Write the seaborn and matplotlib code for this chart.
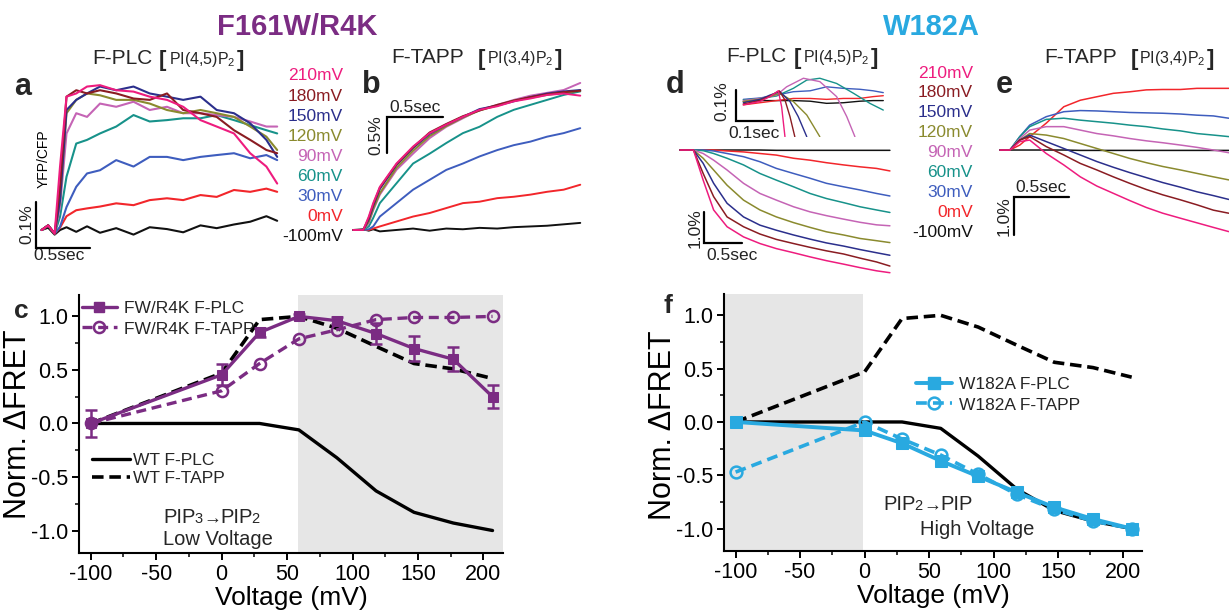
import matplotlib
matplotlib.use("Agg")
import matplotlib.pyplot as plt
import seaborn as sns
from matplotlib.lines import Line2D
from matplotlib.ticker import MultipleLocator, FormatStrFormatter

# ---------------- data ----------------
volt_labels = ["210mV", "180mV", "150mV", "120mV", "90mV", "60mV", "30mV", "0mV", "-100mV"]
trace_colors = ["#EE1C7E", "#8A1C22", "#2B2F8C", "#8A8A2E", "#C564B5", "#17928A", "#3E5DBE", "#F2262B", "#111111"]

# panel a : F161W/R4K F-PLC traces (time s, dFRET %)
a_t = [0, 0.06, 0.12, 0.17, 0.23, 0.32, 0.42, 0.54, 0.69, 0.85, 1.0, 1.16, 1.31, 1.47, 1.62, 1.78, 1.93, 2.08, 2.18]
a_m100 = [0, 0.005, -0.01, 0.0, 0.006, -0.004, 0.008, -0.006, 0.004, -0.01, 0.006, 0.002, -0.005, 0.01, 0.004, 0.012, 0.018, 0.03, 0.02]
a_0 = [0, 0.01, -0.008, 0.005, 0.03, 0.043, 0.047, 0.051, 0.058, 0.054, 0.065, 0.069, 0.065, 0.076, 0.072, 0.087, 0.083, 0.09, 0.083]
a_30 = [0, 0.01, -0.008, 0.007, 0.05, 0.094, 0.123, 0.13, 0.152, 0.138, 0.159, 0.159, 0.152, 0.159, 0.163, 0.167, 0.156, 0.163, 0.152]
a_60 = [0, 0.01, -0.008, 0.029, 0.116, 0.188, 0.196, 0.21, 0.225, 0.25, 0.236, 0.239, 0.243, 0.243, 0.25, 0.239, 0.228, 0.217, 0.21]
a_90 = [0, 0.01, -0.008, 0.051, 0.21, 0.254, 0.246, 0.275, 0.268, 0.279, 0.261, 0.268, 0.254, 0.254, 0.25, 0.246, 0.236, 0.225, 0.225]
a_120 = [0, 0.01, -0.008, 0.065, 0.254, 0.283, 0.297, 0.293, 0.283, 0.283, 0.275, 0.261, 0.254, 0.261, 0.254, 0.246, 0.225, 0.203, 0.174]
a_150 = [0, 0.01, -0.008, 0.065, 0.261, 0.283, 0.297, 0.312, 0.304, 0.312, 0.297, 0.29, 0.283, 0.29, 0.261, 0.254, 0.232, 0.196, 0.159]
a_180 = [0, 0.01, -0.008, 0.094, 0.29, 0.304, 0.297, 0.304, 0.297, 0.286, 0.283, 0.297, 0.261, 0.254, 0.246, 0.217, 0.196, 0.174, 0.167]
a_210 = [0, 0.01, -0.008, 0.138, 0.29, 0.297, 0.312, 0.315, 0.304, 0.301, 0.29, 0.283, 0.268, 0.239, 0.225, 0.21, 0.167, 0.138, 0.101]

# panel b : F161W/R4K F-TAPP traces
b_t = [0, 0.09, 0.14, 0.18, 0.24, 0.39, 0.54, 0.69, 0.84, 0.99, 1.14, 1.30, 1.45, 1.60, 1.75, 1.90, 2.05]
b_210 = [0, 0, 0.19, 0.38, 0.61, 0.94, 1.18, 1.37, 1.49, 1.60, 1.70, 1.75, 1.82, 1.86, 1.91, 1.93, 1.90]
b_180 = [0, 0, 0.17, 0.36, 0.60, 0.93, 1.17, 1.38, 1.50, 1.61, 1.69, 1.77, 1.83, 1.88, 1.92, 1.95, 1.97]
b_150 = [0, 0, 0.15, 0.34, 0.58, 0.92, 1.16, 1.36, 1.49, 1.60, 1.71, 1.76, 1.82, 1.88, 1.93, 1.96, 1.98]
b_120 = [0, 0, 0.12, 0.30, 0.52, 0.88, 1.12, 1.33, 1.47, 1.59, 1.69, 1.76, 1.83, 1.87, 1.91, 1.94, 1.97]
b_90 = [0, 0, 0.10, 0.28, 0.50, 0.85, 1.08, 1.30, 1.46, 1.58, 1.70, 1.77, 1.84, 1.90, 1.94, 1.98, 2.08]
b_60 = [0, 0, 0.05, 0.17, 0.38, 0.66, 0.94, 1.08, 1.23, 1.37, 1.46, 1.60, 1.70, 1.77, 1.84, 1.91, 1.96]
b_30 = [0, 0, 0.01, 0.05, 0.19, 0.38, 0.57, 0.71, 0.85, 0.94, 1.04, 1.13, 1.20, 1.25, 1.32, 1.37, 1.44]
b_0 = [0, 0, 0, 0.02, 0.05, 0.12, 0.19, 0.24, 0.31, 0.38, 0.40, 0.45, 0.47, 0.50, 0.54, 0.57, 0.64]
b_m100 = [0, 0.01, -0.01, 0.01, -0.02, 0.0, 0.02, -0.01, 0.02, 0.01, 0.03, 0.02, 0.04, 0.05, 0.06, 0.08, 0.10]

# panel d : W182A F-PLC traces
d_t = [0, 0.18, 0.31, 0.45, 0.63, 0.85, 1.07, 1.29, 1.52, 1.74, 1.96, 2.19, 2.41, 2.63, 2.81]
d_210 = [0, 0, -0.95, -1.89, -2.42, -2.74, -2.95, -3.11, -3.24, -3.37, -3.49, -3.60, -3.71, -3.81, -3.87]
d_180 = [0, 0, -0.74, -1.47, -2.11, -2.42, -2.65, -2.82, -2.95, -3.07, -3.18, -3.28, -3.41, -3.53, -3.66]
d_150 = [0, 0, -0.42, -1.05, -1.68, -2.11, -2.37, -2.53, -2.68, -2.81, -2.93, -3.03, -3.14, -3.24, -3.32]
d_120 = [0, 0, -0.26, -0.63, -1.11, -1.58, -1.89, -2.11, -2.29, -2.44, -2.58, -2.68, -2.79, -2.86, -2.92]
d_90 = [0, 0, -0.11, -0.32, -0.63, -1.05, -1.37, -1.58, -1.79, -1.95, -2.07, -2.18, -2.28, -2.36, -2.39]
d_60 = [0, 0, -0.02, -0.11, -0.26, -0.47, -0.74, -0.95, -1.16, -1.37, -1.53, -1.66, -1.79, -1.89, -1.97]
d_30 = [0, 0, 0, -0.03, -0.11, -0.21, -0.37, -0.58, -0.74, -0.89, -1.05, -1.16, -1.26, -1.37, -1.45]
d_0 = [0, 0, 0, 0, -0.03, -0.06, -0.11, -0.16, -0.26, -0.32, -0.40, -0.47, -0.53, -0.58, -0.66]
d_m100 = [0, 0, 0, 0, 0, 0, 0, -0.01, -0.01, -0.01, -0.01, -0.01, -0.01, -0.01, -0.01]

# panel d inset (time ms, dFRET in 0.01 %)
di_210_t = [0, 44.6, 71.4, 93.8, 102.7, 111.6]
di_210 = [-1.6, -0.5, 1.1, 3.0, -2.2, -12.0]
di_180_t = [0, 44.6, 71.4, 96.4, 111.6, 125, 138]
di_180 = [-1.3, -0.2, 1.3, 3.0, 0.0, -5.4, -12.0]
di_150_t = [0, 44.6, 71.4, 98.2, 125, 147, 170]
di_150 = [-0.9, 0.2, 1.6, 2.7, -0.5, -5.4, -12.0]
di_120_t = [0, 44.6, 71.4, 98.2, 134, 170, 205]
di_120 = [-0.5, 0.3, 1.1, 2.2, -0.5, -4.9, -12.0]
di_90_t = [0, 44.6, 89.3, 116, 161, 205, 250, 277, 299]
di_90 = [-0.2, 0.5, 1.6, 4.3, 7.1, 6.0, 1.1, -5.4, -12.0]
di_60_t = [0, 44.6, 89.3, 134, 170, 205, 250, 295, 339, 375]
di_60 = [0.0, 0.5, 1.3, 3.8, 6.5, 7.1, 5.4, 2.2, -1.1, -3.3]
di_30_t = [0, 44.6, 89.3, 134, 179, 223, 268, 312, 348, 375]
di_30 = [0.2, 0.65, 1.6, 2.7, 3.0, 4.3, 3.8, 3.5, 3.0, 2.4]
di_0_t = [0, 44.6, 89.3, 134, 179, 223, 268, 312, 348, 375]
di_0 = [-1.6, -0.9, -0.2, 0.5, 0.5, 0.2, 0.5, 0.5, 1.1, 1.4]
di_m100_t = [0, 44.6, 89.3, 134, 179, 223, 268, 312, 348, 375]
di_m100 = [-0.5, -0.2, -0.2, -0.2, -0.4, -1.1, -0.9, -0.4, -0.2, -0.2]

# panel e : W182A F-TAPP traces
e_t = [0, 0.09, 0.18, 0.27, 0.42, 0.58, 0.73, 0.88, 1.03, 1.18, 1.33, 1.48, 1.64, 1.79, 1.94, 2.08]
e_210 = [0, 0, 0.22, 0.26, -0.09, -0.39, -0.70, -0.94, -1.13, -1.32, -1.50, -1.65, -1.78, -1.90, -2.02, -2.13]
e_180 = [0, 0, 0.26, 0.35, 0.09, -0.13, -0.35, -0.52, -0.70, -0.87, -1.03, -1.17, -1.30, -1.43, -1.57, -1.65]
e_150 = [0, 0, 0.26, 0.39, 0.22, 0.04, -0.13, -0.30, -0.45, -0.59, -0.72, -0.85, -0.97, -1.09, -1.19, -1.29]
e_120 = [0, 0, 0.26, 0.43, 0.39, 0.30, 0.17, 0.04, -0.09, -0.22, -0.33, -0.43, -0.52, -0.61, -0.70, -0.78]
e_90 = [0, 0, 0.30, 0.52, 0.61, 0.61, 0.52, 0.43, 0.37, 0.30, 0.24, 0.19, 0.13, 0.07, 0.0, -0.07]
e_60 = [0, 0, 0.35, 0.61, 0.80, 0.83, 0.78, 0.74, 0.70, 0.65, 0.61, 0.55, 0.50, 0.43, 0.39, 0.35]
e_30 = [0, 0, 0.35, 0.65, 0.87, 1.00, 1.03, 1.02, 1.00, 0.98, 0.97, 0.96, 0.94, 0.91, 0.89, 0.83]
e_0 = [0, 0, 0.13, 0.35, 0.70, 1.13, 1.30, 1.39, 1.48, 1.52, 1.57, 1.58, 1.58, 1.61, 1.61, 1.61]
e_m100 = [0, 0, 0, 0, 0, 0, -0.01, -0.01, -0.01, -0.01, -0.01, -0.01, -0.01, -0.01, -0.01, -0.01]

# panels c / f : normalized dFRET vs voltage
volt = [-100, 0, 29, 59, 88, 118, 147, 177, 207]
wt_plc = [0.0, 0.0, 0.0, -0.06, -0.32, -0.63, -0.83, -0.93, -1.0]
wt_tapp = [0.0, 0.47, 0.97, 1.0, 0.89, 0.72, 0.56, 0.51, 0.42]
fw_plc = [0.0, 0.455, 0.85, 1.0, 0.96, 0.84, 0.70, 0.60, 0.25]
fw_plc_err = [0.125, 0.10, 0.04, 0.02, 0.03, 0.10, 0.12, 0.11, 0.11]
fw_tapp = [0.0, 0.305, 0.56, 0.79, 0.875, 0.97, 0.99, 0.99, 1.0]
w182_plc = [0.0, -0.08, -0.20, -0.365, -0.51, -0.66, -0.80, -0.91, -1.0]
w182_tapp = [-0.47, 0.0, -0.16, -0.31, -0.49, -0.68, -0.82, -0.93, -1.0]

PURPLE = "#7B2C83"
CYAN = "#29A9E0"

# ---------------- style ----------------
sns.set_theme(style="ticks")
plt.rcParams['font.family'] = ['Liberation Sans', 'DejaVu Sans']
plt.rcParams['axes.unicode_minus'] = False

W, H = 1229, 615
fig = plt.figure(figsize=(W / 100, H / 100), dpi=100)


def px_axes(x0, y0, x1, y1):
    return fig.add_axes([x0 / W, 1 - y1 / H, (x1 - x0) / W, (y1 - y0) / H])


ov = fig.add_axes([0, 0, 1, 1])
ov.set_xlim(0, W)
ov.set_ylim(H, 0)
ov.axis('off')


def draw_traces(ax, ts, ys, lw):
    # order: -100 first, 210 last (on top)
    for t, y, c in reversed(list(zip(ts, ys, trace_colors))):
        sns.lineplot(x=t, y=y, color=c, lw=lw, ax=ax, legend=False, sort=False)


def scalebar(ax, x0, y0, dx, dy):
    ax.plot([x0 + dx, x0, x0], [y0, y0, y0 + dy], color='black', lw=1.6,
            clip_on=False, solid_joinstyle='miter')


# ---------- panel a ----------
axa = px_axes(30, 70, 280, 262)
draw_traces(axa, [a_t] * 9, [a_210, a_180, a_150, a_120, a_90, a_60, a_30, a_0, a_m100], 1.5)
axa.set_xlim(-0.108, 2.206)
axa.set_ylim(-0.0696, 0.348)
axa.axis('off')
scalebar(axa, -0.053, -0.039, 0.5, 0.1)

# ---------- panel b ----------
axb = px_axes(340, 70, 590, 262)
draw_traces(axb, [b_t] * 9, [b_210, b_180, b_150, b_120, b_90, b_60, b_30, b_0, b_m100], 1.4)
axb.set_xlim(-0.12, 2.138)
axb.set_ylim(-0.453, 2.263)
axb.axis('off')
scalebar(axb, 0.307, 1.594, 0.5, -0.5)

# ---------- panel d ----------
axd = px_axes(670, 140, 900, 280)
draw_traces(axd, [d_t] * 9, [d_210, d_180, d_150, d_120, d_90, d_60, d_30, d_0, d_m100], 1.1)
axd.set_xlim(-0.134, 2.945)
axd.set_ylim(-4.10, 0.316)
axd.axis('off')
scalebar(axd, 0.326, -2.946, 0.5, 1.0)

axdi = px_axes(715, 55, 890, 137)
draw_traces(axdi, [di_210_t, di_180_t, di_150_t, di_120_t, di_90_t, di_60_t, di_30_t, di_0_t, di_m100_t],
            [di_210, di_180, di_150, di_120, di_90, di_60, di_30, di_0, di_m100], 1.0)
axdi.set_xlim(-75.8, 393)
axdi.set_ylim(-12.1, 14.7)
axdi.axis('off')
scalebar(axdi, -19.6, -6.74, 100, 10)

# ---------- panel e ----------
axe = px_axes(990, 60, 1229, 250)
draw_traces(axe, [e_t] * 9, [e_210, e_180, e_150, e_120, e_90, e_60, e_30, e_0, e_m100], 1.1)
axe.set_xlim(-0.091, 2.082)
axe.set_ylim(-2.61, 2.35)
axe.axis('off')
scalebar(axe, 0.13, -1.219, 0.5, -1.0)


# ---------- summary axes helper ----------
def style_summary(ax, label_x, label_y):
    ax.set_xlim(-109, 215)
    ax.set_ylim(-1.21, 1.2)
    ax.xaxis.set_major_locator(MultipleLocator(50))
    ax.xaxis.set_minor_locator(MultipleLocator(25))
    ax.yaxis.set_major_locator(MultipleLocator(0.5))
    ax.yaxis.set_minor_locator(MultipleLocator(0.25))
    ax.yaxis.set_major_formatter(FormatStrFormatter('%.1f'))
    ax.tick_params(which='major', direction='out', length=5, width=1.4, labelsize=15.5,
                   colors='black', pad=3)
    ax.tick_params(which='minor', direction='out', length=3, width=1.1, colors='black')
    for s in ['top', 'right']:
        ax.spines[s].set_visible(False)
    for s in ['left', 'bottom']:
        ax.spines[s].set_linewidth(1.5)
        ax.spines[s].set_color('black')
    ax.set_xlabel("Voltage (mV)", fontsize=19, color='black')
    ax.set_ylabel("Norm. \u0394FRET", fontsize=22, color='black')
    ax.xaxis.set_label_coords(0.5, -0.128)
    ax.yaxis.set_label_coords(label_x, label_y)
    ax.set_facecolor('none')


DASH = (0, (3.2, 1.6))

# ---------- panel c ----------
axc = px_axes(79, 295, 503, 553)
axc.axvspan(58, 215, color='#E6E6E6', lw=0, zorder=0)
sns.lineplot(x=volt, y=wt_plc, color='black', lw=2.4, ax=axc, legend=False)
sns.lineplot(x=volt, y=wt_tapp, color='black', lw=2.6, linestyle=DASH, ax=axc, legend=False)
axc.errorbar(volt, fw_plc, yerr=fw_plc_err, fmt='none', ecolor=PURPLE, elinewidth=1.8,
             capsize=4, capthick=1.8, zorder=3)
sns.lineplot(x=volt, y=fw_tapp, color=PURPLE, lw=2.4, linestyle=(0, (3, 1.7)), marker='o',
             markersize=8, markerfacecolor='none', markeredgecolor=PURPLE, markeredgewidth=1.8,
             ax=axc, legend=False, zorder=4)
sns.lineplot(x=volt, y=fw_plc, color=PURPLE, lw=2.4, marker='s', markersize=7.5,
             markeredgecolor=PURPLE, ax=axc, legend=False, zorder=5)
style_summary(axc, -0.109, 0.50)

h1 = [Line2D([], [], color=PURPLE, lw=2.4, marker='s', markersize=7.5),
      Line2D([], [], color=PURPLE, lw=2.4, ls=(0, (3, 1.7)), marker='o', markersize=8,
             markerfacecolor='none', markeredgewidth=1.8)]
leg1 = axc.legend(h1, ["FW/R4K F-PLC", "FW/R4K F-TAPP"], loc='upper left',
                  bbox_to_anchor=(82, 301), bbox_transform=ov.transData, frameon=False,
                  fontsize=12.5, handlelength=2.0, handletextpad=0.4, labelspacing=0.3,
                  borderpad=0, borderaxespad=0)
axc.add_artist(leg1)
h2 = [Line2D([], [], color='black', lw=2.4), Line2D([], [], color='black', lw=2.6, ls=DASH)]
axc.legend(h2, ["WT F-PLC", "WT F-TAPP"], loc='upper left',
           bbox_to_anchor=(92, 453), bbox_transform=ov.transData, frameon=False,
           fontsize=12.5, handlelength=2.2, handletextpad=0.15, labelspacing=0.15,
           borderpad=0, borderaxespad=0)

# ---------- panel f ----------
axf = px_axes(724, 294, 1142, 551)
axf.axvspan(-110, -1, color='#E6E6E6', lw=0, zorder=0)
sns.lineplot(x=volt, y=wt_plc, color='black', lw=2.4, ax=axf, legend=False)
sns.lineplot(x=volt, y=wt_tapp, color='black', lw=2.6, linestyle=DASH, ax=axf, legend=False)
sns.lineplot(x=volt, y=w182_tapp, color=CYAN, lw=2.6, linestyle=(0, (3, 1.7)), marker='o',
             markersize=8.5, markerfacecolor='none', markeredgecolor=CYAN, markeredgewidth=1.8,
             ax=axf, legend=False, zorder=4)
sns.lineplot(x=volt, y=w182_plc, color=CYAN, lw=2.8, marker='s', markersize=8,
             markeredgecolor=CYAN, ax=axf, legend=False, zorder=5)
style_summary(axf, -0.11, 0.49)
h3 = [Line2D([], [], color=CYAN, lw=2.8, marker='s', markersize=8),
      Line2D([], [], color=CYAN, lw=2.6, ls=(0, (3, 1.7)), marker='o', markersize=8.5,
             markerfacecolor='none', markeredgewidth=1.8)]
axf.legend(h3, ["W182A F-PLC", "W182A F-TAPP"], loc='upper left',
           bbox_to_anchor=(916, 377), bbox_transform=ov.transData, frameon=False,
           fontsize=12.5, handlelength=2.1, handletextpad=0.4, labelspacing=0.3,
           borderpad=0, borderaxespad=0)

# ---------------- texts ----------------
fig.canvas.draw()
renderer = fig.canvas.get_renderer()


def subtitle(x, y, main, inner, offs):
    ov.text(x, y, main, fontsize=15, ha='left', va='baseline')
    ov.text(x + offs[0], y + 2, "[", fontsize=16, fontweight='bold', ha='left', va='baseline')
    t_in = ov.text(x + offs[1], y, inner + r"$_\mathregular{2}$", fontsize=11.5, ha='left', va='baseline')
    x_end = t_in.get_window_extent(renderer).x1
    ov.text(x_end + 1, y + 2, "]", fontsize=16, fontweight='bold', ha='left', va='baseline')


ov.text(297, 27, "F161W/R4K", fontsize=21, fontweight='bold', color=PURPLE, ha='center', va='center')
ov.text(931, 27, "W182A", fontsize=21, fontweight='bold', color=CYAN, ha='center', va='center')

subtitle(92, 64, "F-PLC", "PI(4,5)P", (67, 77))
subtitle(391, 63, "F-TAPP", "PI(3,4)P", (87, 96))
subtitle(726, 62, "F-PLC", "PI(4,5)P", (68, 77))
subtitle(1044, 63, "F-TAPP", "PI(3,4)P", (87, 95))

for s, x, y in [("a", 14, 95), ("b", 362, 93), ("d", 666, 93), ("e", 996, 93)]:
    ov.text(x, y, s, fontsize=22, fontweight='bold', ha='left', va='baseline')
for s, x, y in [("c", 14, 318), ("f", 664, 313)]:
    ov.text(x, y, s, fontsize=19, fontweight='bold', ha='left', va='baseline')

for i, (lab, col) in enumerate(zip(volt_labels, trace_colors)):
    ov.text(343, 76 + 20.1 * i, lab, fontsize=12.5, color=col, ha='right', va='center')
    ov.text(973, 73 + 19.9 * i, lab, fontsize=12.5, color=col, ha='right', va='center')

SB = '#222222'
ov.text(27, 224, "0.1%", fontsize=12.5, rotation=90, ha='center', va='center', color=SB)
ov.text(33, 256, "0.5sec", fontsize=12.5, ha='left', va='center', color=SB)
ov.text(44, 159, "YFP/CFP", fontsize=10, rotation=90, ha='center', va='center', color='black')
ov.text(415, 108, "0.5sec", fontsize=12.5, ha='center', va='center', color=SB)
ov.text(376, 135, "0.5%", fontsize=12.5, rotation=90, ha='center', va='center', color=SB)
ov.text(695, 228, "1.0%", fontsize=12.5, rotation=90, ha='center', va='center', color=SB)
ov.text(732, 255, "0.5sec", fontsize=12.5, ha='center', va='center', color=SB)
ov.text(722, 101, "0.1%", fontsize=12.5, rotation=90, ha='center', va='center', color=SB)
ov.text(754, 134, "0.1sec", fontsize=12.5, ha='center', va='center', color=SB)
ov.text(1041, 188, "0.5sec", fontsize=12.5, ha='center', va='center', color=SB)
ov.text(1004, 216, "1.0%", fontsize=12.5, rotation=90, ha='center', va='center', color=SB)


def pip_text(x, y, pieces):
    for s, dx, fs, wt in pieces:
        ov.text(x + dx, y, s, fontsize=fs, fontweight=wt, ha='left', va='baseline')


pip_text(163, 523, [("PIP", 0, 14.5, 'normal'), ("3", 31, 10.5, 'normal'), ("\u2192", 40, 13, 'bold'),
                    ("PIP", 57, 14.5, 'normal'), ("2", 88, 10.5, 'normal')])
ov.text(163, 545, "Low Voltage", fontsize=14.5, ha='left', va='baseline')
pip_text(883, 510, [("PIP", 0, 14.5, 'normal'), ("2", 31, 10.5, 'normal'), ("\u2192", 40, 13, 'bold'),
                    ("PIP", 57, 14.5, 'normal')])
ov.text(920, 535, "High Voltage", fontsize=14.5, ha='left', va='baseline')

fig.savefig("out.png", dpi=100)
